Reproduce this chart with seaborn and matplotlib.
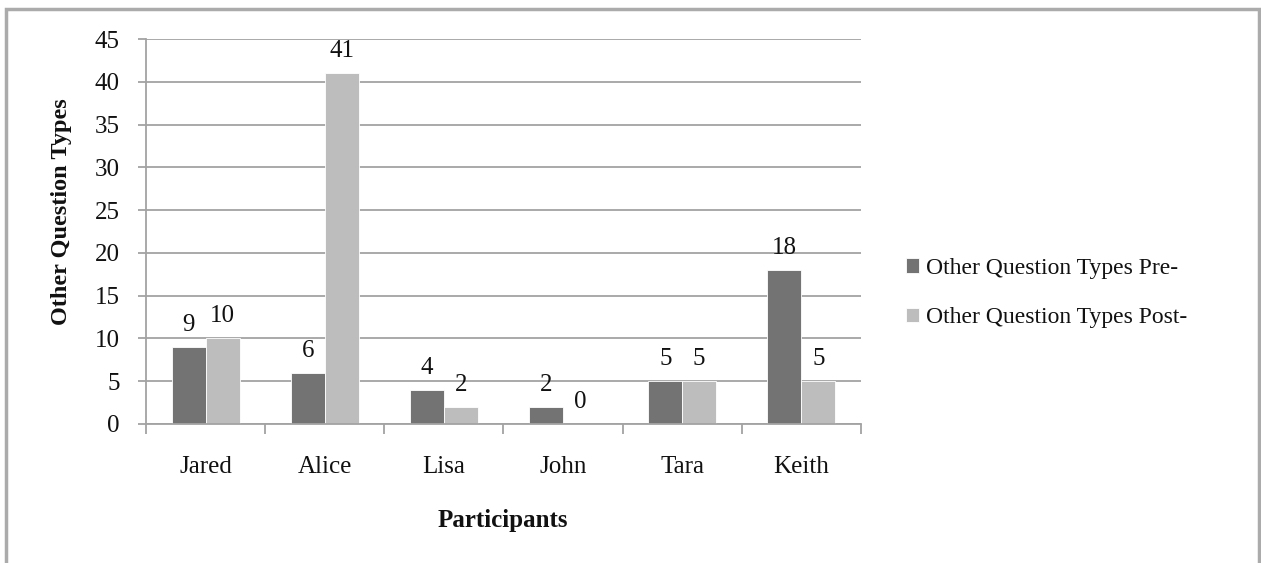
import matplotlib
matplotlib.use("Agg")
import matplotlib.pyplot as plt
import seaborn as sns
import pandas as pd
from matplotlib.patches import Rectangle

participants = ["Jared", "Alice", "Lisa", "John", "Tara", "Keith"]
pre_values = [9, 6, 4, 2, 5, 18]
post_values = [10, 41, 2, 0, 5, 5]
series_names = ["Other Question Types Pre-", "Other Question Types Post-"]
y_ticks = [0, 5, 10, 15, 20, 25, 30, 35, 40, 45]

df = pd.DataFrame({
    "Participant": participants * 2,
    "Count": pre_values + post_values,
    "Series": [series_names[0]] * len(participants) + [series_names[1]] * len(participants),
})

sns.set_theme(style="white")
plt.rcParams["font.family"] = ["Liberation Serif", "DejaVu Serif"]
plt.rcParams["text.color"] = "#111111"
plt.rcParams["xtick.color"] = "#111111"
plt.rcParams["ytick.color"] = "#111111"
plt.rcParams["axes.labelcolor"] = "#111111"

FS = 18
GRID = "#a3a3a3"

fig = plt.figure(figsize=(12.61, 5.63), dpi=100)
ax = fig.add_axes([146 / 1261, 1 - 424 / 563, (861 - 146) / 1261, (424 - 39) / 563])

palette = {series_names[0]: "#737373", series_names[1]: "#bdbdbd"}
sns.barplot(data=df, x="Participant", y="Count", hue="Series", palette=palette,
            width=0.57, saturation=1, ax=ax, legend=True, linewidth=0.6, edgecolor="white")

ax.set_ylim(0, 45)
ax.set_xlim(-0.5, len(participants) - 0.5)
ax.set_yticks(y_ticks)
ax.yaxis.grid(True, color=GRID, linewidth=1.3)
ax.set_axisbelow(True)
for s in ["top", "right"]:
    ax.spines[s].set_visible(False)
for s in ["left", "bottom"]:
    ax.spines[s].set_color(GRID)
    ax.spines[s].set_linewidth(1.3)

ax.tick_params(axis="y", length=6, color=GRID, width=1.3, labelsize=FS, pad=13, left=True)
ax.tick_params(axis="x", length=0, labelsize=FS, pad=23)
# category boundary ticks below the axis
ax.set_xticks([i - 0.5 for i in range(len(participants) + 1)], minor=True)
ax.tick_params(axis="x", which="minor", length=7, color=GRID, width=1.3, bottom=True)

for c in ax.containers:
    ax.bar_label(c, fmt="%d", fontsize=FS, padding=8)

ax.set_ylabel("")
ax.set_xlabel("")
fig.text(61 / 1261, 1 - 212 / 563, "Other Question Types", rotation=90, fontsize=FS - 0.5,
         fontweight="bold", ha="center", va="center")
fig.text(503 / 1261, 1 - 520 / 563, "Participants", fontsize=FS,
         fontweight="bold", ha="center", va="center")

ax.legend(loc="center left", bbox_to_anchor=(1.05, 0.34), frameon=False, fontsize=FS - 1,
          handlelength=0.55, handleheight=0.55, handletextpad=0.3, labelspacing=1.2,
          borderaxespad=0)

# outer chart frame
fig.patches.append(Rectangle((6 / 1261, -0.05), (1259 - 6) / 1261, 1.05 - 9 / 563,
                             transform=fig.transFigure, fill=False,
                             edgecolor="#ababab", linewidth=2.5))

fig.savefig("out.png", dpi=100, facecolor="white")
